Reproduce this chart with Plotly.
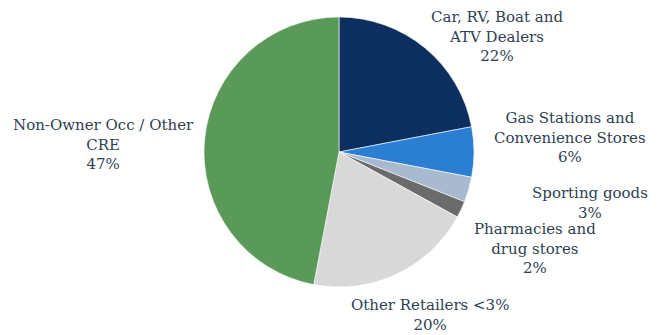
import plotly.graph_objects as go

# Loan portfolio mix by segment
segments = [
    "Car, RV, Boat and<br>ATV Dealers",
    "Gas Stations and<br>Convenience Stores",
    "Sporting goods",
    "Pharmacies and<br>drug stores",
    "Other Retailers <3%",
    "Non-Owner Occ / Other<br>CRE",
]
shares = [22, 6, 3, 2, 20, 47]
colors = ["#0c2f5f", "#2a7fd3", "#a9b9cf", "#6b6b6b", "#d8d8d8", "#5a9a58"]

# label anchor points (pixel coords of the 663x335 canvas)
label_xy = [(497, 36), (570, 137), (590, 203), (535, 248), (430, 315), (103, 145)]

W, H = 663, 335
cx, cy, r = 339, 152, 135

fig = go.Figure(
    go.Pie(
        labels=segments,
        values=shares,
        sort=False,
        direction="clockwise",
        rotation=0,
        marker=dict(colors=colors, line=dict(color="white", width=0.6)),
        textinfo="none",
        hoverinfo="label+percent",
        showlegend=False,
        domain=dict(x=[(cx - r) / W, (cx + r) / W], y=[(H - cy - r) / H, (H - cy + r) / H]),
    )
)

for lab, val, (px, py) in zip(segments, shares, label_xy):
    fig.add_annotation(
        x=px / W, y=1 - py / H, xref="paper", yref="paper",
        text=f"{lab}<br>{val}%", showarrow=False,
        xanchor="center", yanchor="middle", align="center",
        font=dict(family="DejaVu Serif", size=15, color="#2f3f52"),
    )

fig.update_layout(
    width=W, height=H,
    margin=dict(l=0, r=0, t=0, b=0),
    paper_bgcolor="white", plot_bgcolor="white",
)

fig.write_html("out.html")
